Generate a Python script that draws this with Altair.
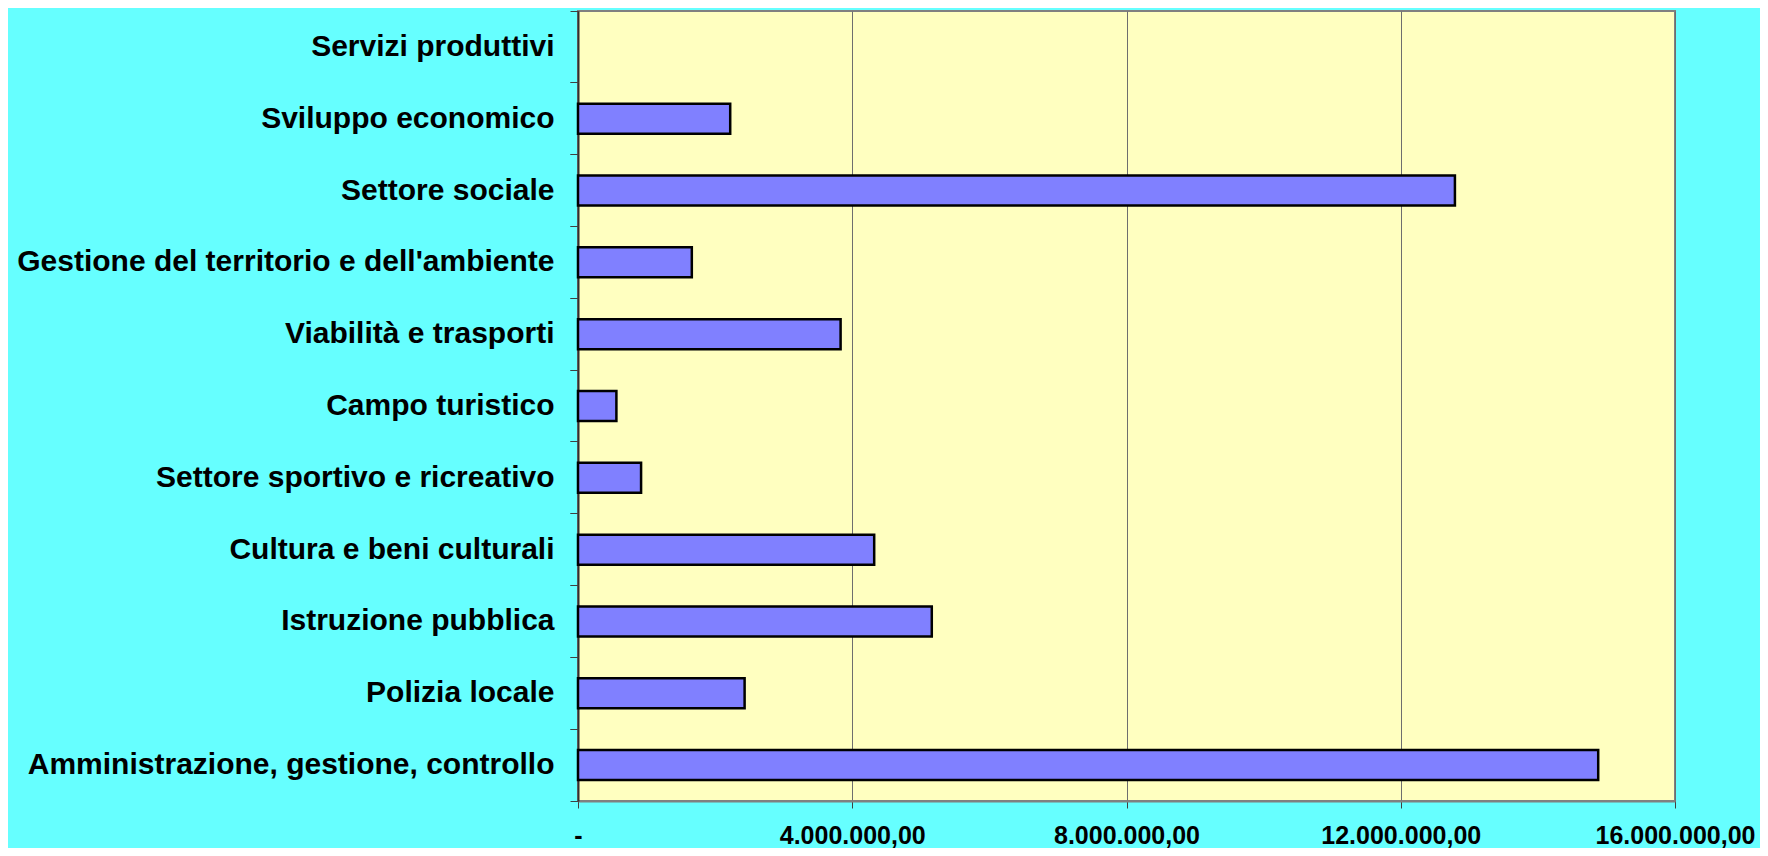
import altair as alt
import pandas as pd

categories = [
    "Servizi produttivi",
    "Sviluppo economico",
    "Settore sociale",
    "Gestione del territorio e dell'ambiente",
    "Viabilità e trasporti",
    "Campo turistico",
    "Settore sportivo e ricreativo",
    "Cultura e beni culturali",
    "Istruzione pubblica",
    "Polizia locale",
    "Amministrazione, gestione, controllo",
]
values = [0, 2220000, 12790000, 1660000, 3830000, 560000, 920000,
          4320000, 5160000, 2430000, 14880000]
x_ticks = [0, 4000000, 8000000, 12000000, 16000000]
x_tick_labels = ["-", "4.000.000,00", "8.000.000,00", "12.000.000,00", "16.000.000,00"]

df = pd.DataFrame({"category": categories, "value": values})

FONT = "Liberation Sans"
label_array = "[" + ",".join("'" + s + "'" for s in x_tick_labels) + "]"

yscale = alt.Scale(paddingInner=0, paddingOuter=0)

bars = alt.Chart(df).mark_bar(size=30, color="#8080FF", stroke="black").encode(
    x=alt.X(
        "value:Q",
        scale=alt.Scale(domain=[0, 16000000], nice=False),
        axis=alt.Axis(
            values=x_ticks,
            labelExpr=label_array + "[round(datum.value / 4000000)]",
            title=None,
            grid=True,
            gridColor="#6e6e6e",
            gridWidth=1,
            domainColor="#808080",
            domainWidth=2,
            tickColor="#404040",
            tickSize=7,
            labelPadding=15,
            labelFont=FONT,
            labelFontSize=25,
            labelFontWeight="bold",
            labelColor="black",
            labelFlush=False,
            labelOverlap=False,
        ),
    ),
    y=alt.Y(
        "category:N",
        sort=categories,
        scale=yscale,
        axis=alt.Axis(
            orient="left",
            title=None,
            ticks=False,
            tickSize=0,
            domain=False,
            grid=False,
            labelPadding=24,
            labelFont=FONT,
            labelFontSize=30,
            labelFontWeight="bold",
            labelColor="black",
            labelLimit=0,
        ),
    ),
    strokeWidth=alt.condition(alt.datum.value > 0, alt.value(2.5), alt.value(0)),
    tooltip=["category", "value"],
)

ticks_top = alt.Chart(df).mark_point(opacity=0).encode(
    y=alt.Y(
        "category:N",
        sort=categories,
        scale=yscale,
        axis=alt.Axis(
            orient="left",
            title=None,
            labels=False,
            ticks=True,
            tickSize=8,
            tickColor="#404040",
            bandPosition=0,
            domain=True,
            domainColor="#303030",
            domainWidth=2,
            grid=False,
        ),
    )
)

ticks_bottom = alt.Chart(df).mark_point(opacity=0).encode(
    y=alt.Y(
        "category:N",
        sort=categories,
        scale=yscale,
        axis=alt.Axis(
            orient="left",
            title=None,
            labels=False,
            ticks=True,
            tickSize=8,
            tickColor="#404040",
            bandPosition=1,
            domain=False,
            grid=False,
        ),
    )
)

chart = (
    alt.layer(bars, ticks_top, ticks_bottom)
    .resolve_axis(y="independent")
    .properties(
        width=1097,
        height=790,
        autosize=alt.AutoSizeParams(type="none"),
        padding={"left": 570, "top": 3, "right": 85, "bottom": 47},
        background="#66FFFF",
    )
    .configure_view(fill="#FFFFC0", stroke="#808080", strokeWidth=2)
)

chart.save("out.html", embed_options={"renderer": "svg", "actions": False})
